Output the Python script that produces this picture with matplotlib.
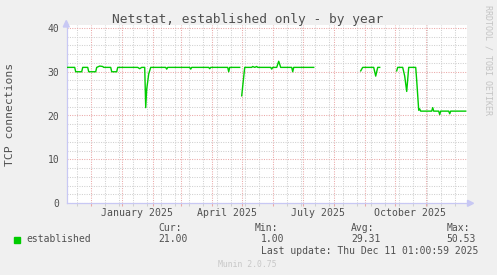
import numpy as np
import matplotlib.pyplot as plt
import matplotlib.dates as mdates
from matplotlib.patches import Rectangle, Polygon

W, H = 497, 275

# days since 2024-11-07, nan = gap in data
day_offsets = [0, 8, 9, 15, 16, 21, 22, 29, 30, 33, 36, 37, 44, 45, 50, 51,
               71, 73, 75, 78, 79, 80, 82, 84, 99, 100, 101, 123, 124, 125,
               142, 143, 144, 161, 162, 163, 173, 174, 175, 178, 185, 186,
               188, 190, 191, 204, 205, 206, 210, 212, 214, 225, 226, 227,
               247, 248,
               294, 296, 307, 309, 311, 313, 314,
               330, 331, 336, 338, 340, 342, 349, 350, 352, 353, 354, 365,
               366, 367, 372, 373, 374, 382, 383, 384, 399]
established = [31, 31, 30, 30, 31, 31, 30, 30, 31, 31.3, 31.2, 31, 31, 30, 30, 31,
               31, 30.7, 31, 31, 21.8, 26, 29.5, 31, 31, 30.6, 31, 31, 30.6, 31,
               31, 30.7, 31, 31, 30, 31, 31, np.nan, 24.5, 31, 31, 31.2,
               31, 31.2, 31, 31, 30.6, 31, 31, 32.4, 31, 31, 30, 31,
               31, np.nan,
               30.2, 31, 31, 29, 31, 31, np.nan,
               30.2, 31, 31, 29, 25.5, 31, 31, 28, 21.2, 21.5, 21, 21,
               21.8, 21, 21, 20.2, 21, 21, 20.4, 21, 21]

label_dates = ["2025-01-16", "2025-04-16", "2025-07-16", "2025-10-16"]
label_texts = ["January 2025", "April 2025", "July 2025", "October 2025"]

stats = [("Cur:", "21.00"), ("Min:", "1.00"), ("Avg:", "29.31"), ("Max:", "50.53")]

start = np.datetime64("2024-11-07")
dates = start + np.array(day_offsets).astype("timedelta64[D]")

plt.rcParams["font.family"] = "DejaVu Sans Mono"
txt = "#505050"
red_grid = "#EAA8A8"
gray_grid = "#D0D0D0"
axis_col = "#C8C8F4"


def fx(px):
    return px / W


def fy(py):
    return 1 - py / H


fig = plt.figure(figsize=(W / 100, H / 100), dpi=100, facecolor="#F0F0F0")
left, right, top, bottom = 66.5, 467.5, 25.5, 203.0
ax = fig.add_axes([fx(left), fy(bottom), (right - left) / W, (bottom - top) / H])
ax.set_facecolor("white")

ax.plot(dates, established, color="#00CC00", lw=1.0, zorder=3)

x0 = start + np.timedelta64(-5, "h")
ax.set_xlim(mdates.date2num(x0), mdates.date2num(x0) + (right - left))
ax.set_ylim(0, (bottom - top) / ((bottom - 28.0) / 40))

# grid: months (red) and every 14 days (gray)
month_starts = np.arange("2024-12", "2025-12", dtype="datetime64[M]").astype("datetime64[D]")
biweekly = np.arange(np.datetime64("2024-11-17"), np.datetime64("2025-12-12"), 14)
ax.set_xticks(mdates.date2num(month_starts))
ax.set_xticks(mdates.date2num(biweekly), minor=True)
ax.set_xticklabels([])
ax.set_yticks([0, 10, 20, 30, 40])
ax.set_yticks(np.arange(2, 40, 2), minor=True)
ax.grid(which="minor", color=gray_grid, lw=0.75, ls=(0, (1, 1.3)))
ax.grid(which="major", color=red_grid, lw=0.75, ls=(0, (1, 1.3)))
ax.set_axisbelow(True)
ax.tick_params(axis="x", which="major", color=red_grid, length=2, width=0.75)
ax.tick_params(axis="x", which="minor", color=gray_grid, length=2, width=0.75)
ax.tick_params(axis="y", which="both", length=0, pad=5, labelsize=7, labelcolor=txt)

for s in ["top", "right"]:
    ax.spines[s].set_visible(False)
for s in ["left", "bottom"]:
    ax.spines[s].set_color(axis_col)
    ax.spines[s].set_linewidth(0.9)

for d, lab in zip(label_dates, label_texts):
    ax.text(mdates.date2num(np.datetime64(d)), -0.055, lab, transform=ax.get_xaxis_transform(),
            ha="center", va="center", fontsize=7.1, color=txt)

# axis arrows
fig.patches.append(Polygon([(fx(63.3), fy(27)), (fx(69.3), fy(27)), (fx(66.3), fy(20.5))],
                           closed=True, color=axis_col, transform=fig.transFigure))
fig.patches.append(Polygon([(fx(467.5), fy(200.3)), (fx(467.5), fy(206.3)), (fx(473.5), fy(203.3))],
                           closed=True, color=axis_col, transform=fig.transFigure))

fig.text(fx(247.5), fy(19), "Netstat, established only - by year", ha="center", va="center",
         fontsize=9.3, color=txt)
fig.text(fx(10), fy(114.5), "TCP connections", rotation=90, ha="center", va="center",
         fontsize=8.2, color=txt)
fig.text(fx(487.7), fy(60), "RRDTOOL / TOBI OETIKER", rotation=-90, ha="center", va="center",
         fontsize=6, color="#C4C4C4")

# legend
fig.patches.append(Rectangle((fx(14), fy(242.7)), 6 / W, 6 / H, color="#00CC00",
                             transform=fig.transFigure))
fig.text(fx(26), fy(239.5), "established", ha="left", va="center", fontsize=7, color=txt)
head_x = [158.3, 255, 351, 446.7]
val_x = [158.3, 261, 351, 446.7]
for (head, val), hx, vx in zip(stats, head_x, val_x):
    fig.text(fx(hx), fy(227.7), head, ha="left", va="center", fontsize=7, color=txt)
    fig.text(fx(vx), fy(239.5), val, ha="left", va="center", fontsize=7, color=txt)
fig.text(fx(261), fy(251), "Last update: Thu Dec 11 01:00:59 2025", ha="left", va="center",
         fontsize=7, color=txt)
fig.text(fx(218.3), fy(264.3), "Munin 2.0.75", ha="left", va="center", fontsize=5.9,
         color="#C8C8C8")

fig.savefig("out.png", dpi=100, facecolor=fig.get_facecolor())
